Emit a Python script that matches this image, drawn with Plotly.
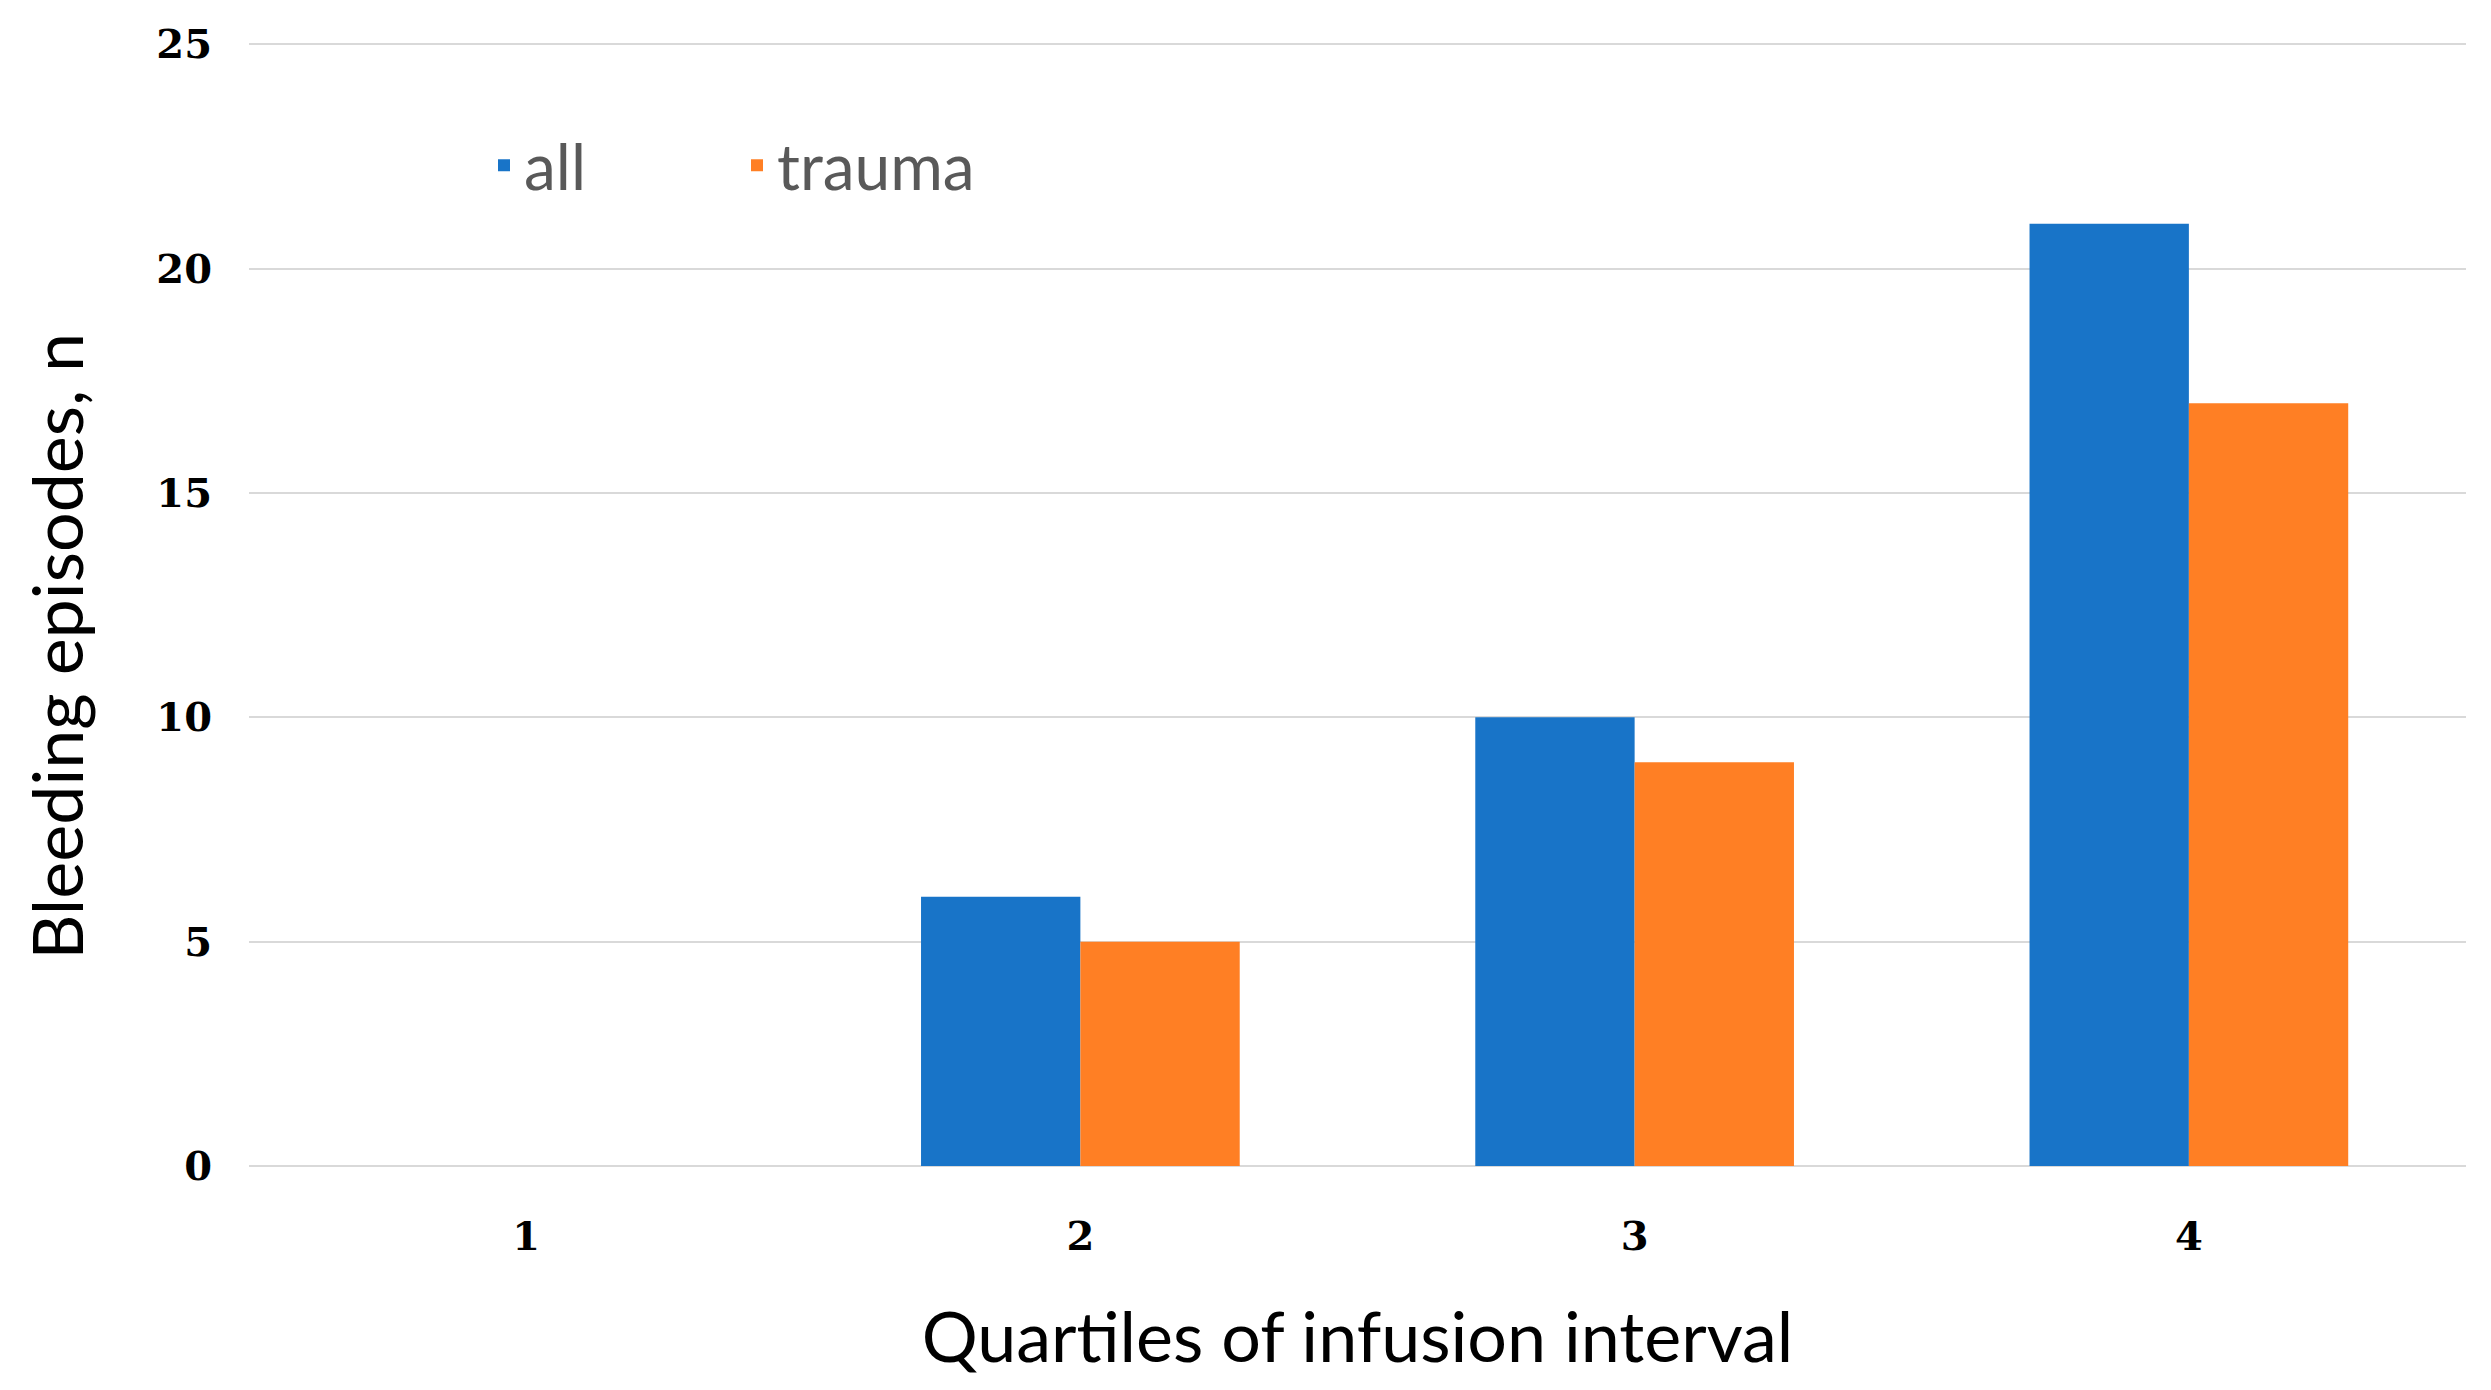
import plotly.graph_objects as go

categories = ["1", "2", "3", "4"]
all_values = [0, 6, 10, 21]
trauma_values = [0, 5, 9, 17]
y_ticks = [0, 5, 10, 15, 20, 25]

BLUE = "#1874C8"
ORANGE = "#FF7F24"
TICK_FONT = dict(family="DejaVu Serif", size=40, color="#000000", weight="bold")

fig = go.Figure()
fig.add_trace(go.Bar(x=categories, y=all_values, name="all",
                     marker=dict(color=BLUE, line=dict(width=0))))
fig.add_trace(go.Bar(x=categories, y=trauma_values, name="trauma",
                     marker=dict(color=ORANGE, line=dict(width=0))))

fig.update_layout(
    width=2483, height=1382,
    margin=dict(l=241, r=25, t=27, b=224),
    paper_bgcolor="white", plot_bgcolor="white",
    barmode="group", bargap=0.425, bargroupgap=0,
    font=dict(family="Lato", color="#000000"),
    legend=dict(orientation="h", x=0.106, y=0.89, xanchor="left", yanchor="middle",
                font=dict(family="Lato", size=64, color="#595959"),
                entrywidth=208, bgcolor="rgba(0,0,0,0)"),
    showlegend=True,
    annotations=[dict(
        text="Bleeding episodes, n", textangle=-90,
        xref="paper", yref="paper", x=0, y=0.462,
        xanchor="center", yanchor="middle", xshift=-193, showarrow=False,
        font=dict(family="Lato", size=70, color="#000000"),
    )],
)
fig.update_xaxes(
    type="category", showgrid=False, showline=False, ticks="",
    tickfont=TICK_FONT,
    ticklabelstandoff=43,
    title=dict(text="Quartiles of infusion interval",
               font=dict(family="Lato", size=70, color="#000000"), standoff=54),
)
fig.update_yaxes(
    range=[0, 25.05], tickvals=y_ticks, showgrid=True, gridcolor="#D9D9D9", gridwidth=2,
    zeroline=True, zerolinecolor="#D9D9D9", zerolinewidth=2, showline=False, ticks="",
    tickfont=TICK_FONT,
    ticklabelstandoff=36,
)

fig.write_html("out.html")
